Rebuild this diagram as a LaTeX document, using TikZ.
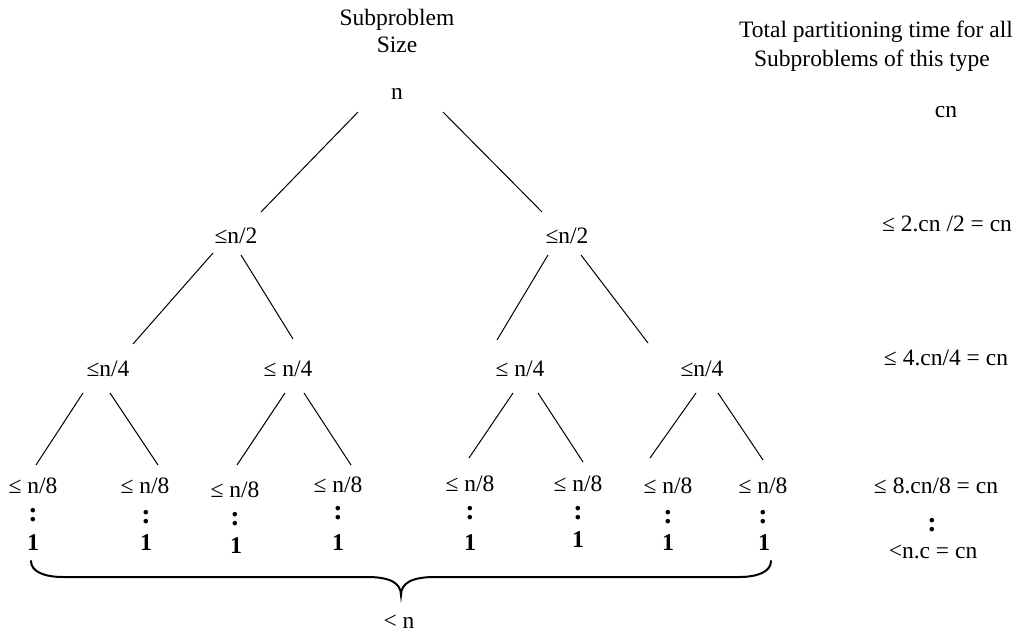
\documentclass[tikz,border=0pt]{standalone}
\usepackage{fontspec}
\setmainfont{Liberation Serif}

\begin{document}
\begin{tikzpicture}[x=0.5pt, y=-0.5pt,
    every node/.style={font=\fontsize{11.75}{14}\selectfont, inner sep=0pt},
    lbl/.style={anchor=base},
    dots/.style={anchor=base, font=\fontsize{14}{16}\selectfont\bfseries},
    one/.style={anchor=base, font=\fontsize{12}{14}\selectfont\bfseries},
    edge/.style={line width=0.5pt},
    brace/.style={line width=1pt, line cap=round}]
  \useasboundingbox (0,0) rectangle (1019,631);

  % column heads
  \node[lbl] (head1) at (397,26) {Subproblem};
  \node[lbl] (head2) at (397,53) {Size};
  \node[lbl] (tot1) at (876,38) {Total partitioning time for all};
  \node[lbl] (tot2) at (872,67) {Subproblems of this type};

  % recursion tree
  \node[lbl] (n) at (397,100) {n};
  \node[lbl] (a) at (236,243) {≤n/2};
  \node[lbl] (b) at (567,243) {≤n/2};
  \node[lbl] (aa) at (108,376) {≤n/4};
  \node[lbl] (ab) at (288,376) {≤ n/4};
  \node[lbl] (ba) at (520,376) {≤ n/4};
  \node[lbl] (bb) at (702,376) {≤n/4};

  \node[lbl] (l1) at (33,493) {≤ n/8};
  \node[lbl] (l2) at (145,493) {≤ n/8};
  \node[lbl] (l3) at (235,497) {≤ n/8};
  \node[lbl] (l4) at (338,492) {≤ n/8};
  \node[lbl] (l5) at (470,491) {≤ n/8};
  \node[lbl] (l6) at (578,491) {≤ n/8};
  \node[lbl] (l7) at (668,493) {≤ n/8};
  \node[lbl] (l8) at (763,493) {≤ n/8};

  \node[dots] (c1) at (33,521) {:};
  \node[dots] (c2) at (146,523) {:};
  \node[dots] (c3) at (235,525) {:};
  \node[dots] (c4) at (338,519) {:};
  \node[dots] (c5) at (470,519) {:};
  \node[dots] (c6) at (578,519) {:};
  \node[dots] (c7) at (668,523) {:};
  \node[dots] (c8) at (763,523) {:};

  \node[one] (o1) at (33,550) {1};
  \node[one] (o2) at (146,550) {1};
  \node[one] (o3) at (236,553) {1};
  \node[one] (o4) at (338,550) {1};
  \node[one] (o5) at (470,550) {1};
  \node[one] (o6) at (578,547) {1};
  \node[one] (o7) at (668,550) {1};
  \node[one] (o8) at (764,550) {1};

  \draw[edge] ([shift={(-39,12)}]n.base) -- ([shift={(25,-31)}]a.base);
  \draw[edge] ([shift={(46,12)}]n.base) -- ([shift={(-25,-31)}]b.base);
  \draw[edge] ([shift={(-23,10)}]a.base) -- ([shift={(25,-32)}]aa.base);
  \draw[edge] ([shift={(5,12)}]a.base) -- ([shift={(5,-37)}]ab.base);
  \draw[edge] ([shift={(-19,12)}]b.base) -- ([shift={(-23,-36)}]ba.base);
  \draw[edge] ([shift={(14,12)}]b.base) -- ([shift={(-54,-33)}]bb.base);
  \draw[edge] ([shift={(-25,17)}]aa.base) -- ([shift={(3,-28)}]l1.base);
  \draw[edge] ([shift={(2,17)}]aa.base) -- ([shift={(13,-28)}]l2.base);
  \draw[edge] ([shift={(-3,17)}]ab.base) -- ([shift={(2,-32)}]l3.base);
  \draw[edge] ([shift={(16,17)}]ab.base) -- ([shift={(13,-27)}]l4.base);
  \draw[edge] ([shift={(-7,17)}]ba.base) -- ([shift={(-1,-33)}]l5.base);
  \draw[edge] ([shift={(18,17)}]ba.base) -- ([shift={(5,-29)}]l6.base);
  \draw[edge] ([shift={(-6,17)}]bb.base) -- ([shift={(-18,-35)}]l7.base);
  \draw[edge] ([shift={(16,17)}]bb.base) -- ([shift={(0,-33)}]l8.base);

  % brace under the leaves
  \draw[brace] (31,561) .. controls (31,572) and (45,577) .. (63,577) -- (367,577)
    .. controls (390,577) and (401,583) .. (401,595)
    .. controls (401,583) and (412,577) .. (435,577) -- (739,577)
    .. controls (757,577) and (771,572) .. (771,561);
  \node[lbl] (total) at (399,628) {< n};

  % cost per level
  \node[lbl] (cost0) at (946,118) {cn};
  \node[lbl] (cost1) at (947,232) {≤ 2.cn /2 = cn};
  \node[lbl] (cost2) at (946,365) {≤ 4.cn/4 = cn};
  \node[lbl] (cost3) at (936,493) {≤ 8.cn/8 = cn};
  \node[dots] (cdots) at (932,531) {:};
  \node[lbl] (costn) at (933,558) {<n.c = cn};
\end{tikzpicture}
\end{document}
